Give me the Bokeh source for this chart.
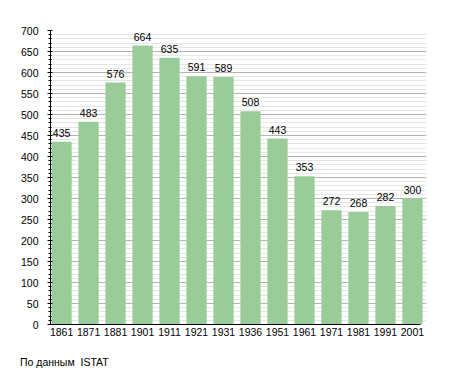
from bokeh.plotting import figure
from bokeh.models import (ColumnDataSource, Range1d, SingleIntervalTicker, FixedTicker, Div)
from bokeh.layouts import column
from bokeh.core.properties import value
from bokeh.embed import file_html
from bokeh.resources import INLINE

years = ["1861", "1871", "1881", "1901", "1911", "1921", "1931", "1936",
         "1951", "1961", "1971", "1981", "1991", "2001"]
population = [435, 483, 576, 664, 635, 591, 589, 508, 443, 353, 272, 268, 282, 300]
source_note = "По данным\u00a0\u00a0ISTAT"

FONT = "Liberation Sans"
idx = list(range(len(years)))
src = ColumnDataSource(dict(x=idx, top=population,
                            label_y=[v + 21 for v in population],
                            label=[str(v) for v in population]))

p = figure(width=455, height=344, output_backend="svg", toolbar_location=None,
           x_range=Range1d(-0.41, len(years) - 1 + 0.52), y_range=Range1d(0, 700),
           min_border_left=50, min_border_right=29, min_border_top=30, min_border_bottom=20)
p.outline_line_color = None
p.background_fill_color = "white"
p.border_fill_color = "white"

p.vbar(x="x", top="top", bottom=0, width=0.75, source=src,
       fill_color="#99cc99", line_color=None)
p.text(x="x", y="label_y", text="label", source=src, text_align="center",
       text_baseline="alphabetic", text_font=value(FONT),
       text_font_size="10.5px", text_color="black")

yt = SingleIntervalTicker(interval=50, num_minor_ticks=5)
p.yaxis.ticker = yt
p.ygrid.ticker = yt
p.ygrid.grid_line_color = "#b3b3b3"
p.ygrid.minor_grid_line_color = "#e6e6e6"
p.xgrid.grid_line_color = None

p.yaxis.axis_line_color = "black"
p.yaxis.major_tick_line_color = "black"
p.yaxis.minor_tick_line_color = "black"
p.yaxis.major_tick_out = 3
p.yaxis.major_tick_in = 2
p.yaxis.minor_tick_out = 2
p.yaxis.minor_tick_in = 1
p.yaxis.major_label_standoff = 9
p.yaxis.major_label_text_font = FONT
p.yaxis.major_label_text_font_size = "10.5px"
p.yaxis.major_label_text_color = "black"

p.xaxis.ticker = FixedTicker(ticks=idx)
p.xaxis.major_label_overrides = {i: y for i, y in zip(idx, years)}
p.xaxis.bounds = (-0.41, len(years) - 1 + 0.3)
p.xaxis.axis_line_color = "black"
p.xaxis.major_tick_line_color = None
p.xaxis.minor_tick_line_color = None
p.xaxis.major_tick_out = 0
p.xaxis.major_label_standoff = 3
p.xaxis.major_label_text_font = FONT
p.xaxis.major_label_text_font_size = "10.5px"
p.xaxis.major_label_text_color = "black"

note = Div(text=source_note, width=200, height=14, margin=(12, 0, 0, 20),
           styles={"font-family": FONT, "font-size": "10.5px", "color": "black",
                   "line-height": "12px", "white-space": "pre"})

layout = column(p, note, spacing=0)
open("out.html", "w").write(file_html(layout, INLINE))
